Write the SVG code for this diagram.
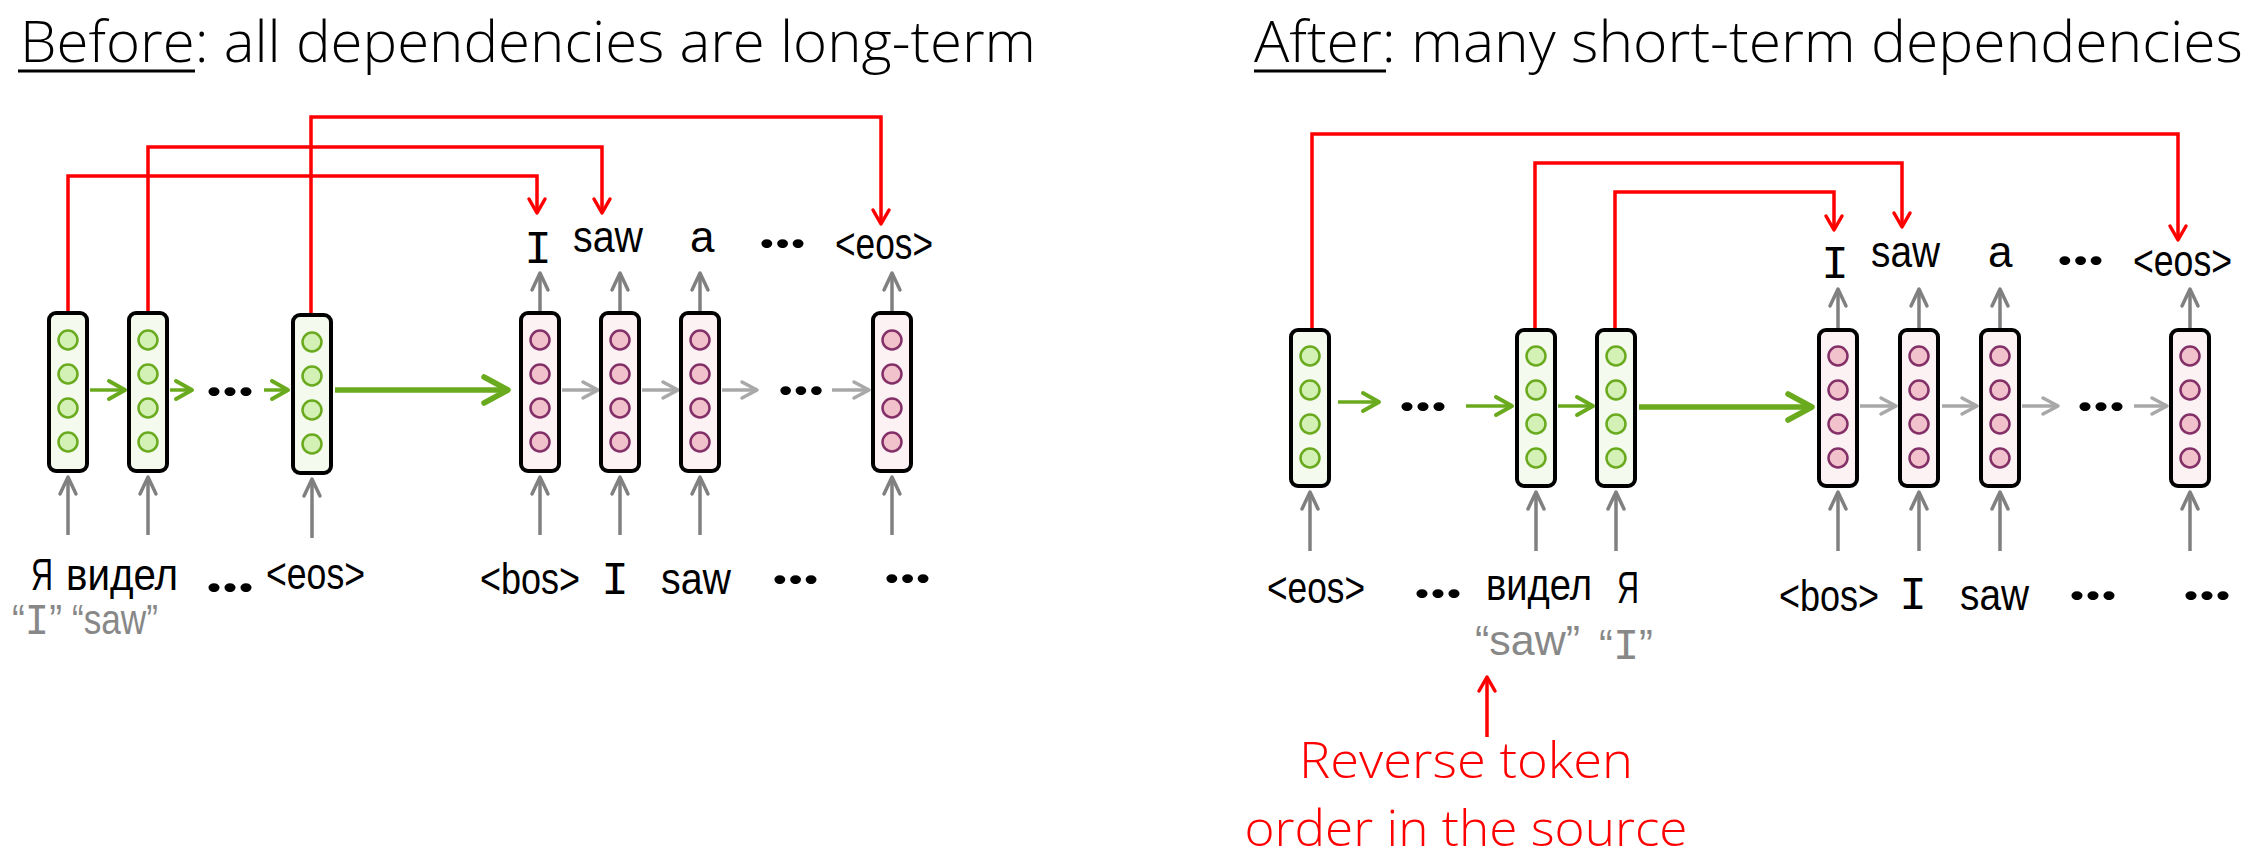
<svg xmlns="http://www.w3.org/2000/svg" width="2256" height="864" viewBox="0 0 2256 864">
<style>
.title{font-family:"Open Sans","Liberation Sans",sans-serif;font-weight:300;font-size:57px;fill:#000}
.note{font-family:"Open Sans","Liberation Sans",sans-serif;font-weight:300;font-size:49px;fill:#ff0000}
.tok{font-family:"Liberation Sans","DejaVu Sans",sans-serif;font-size:44px;fill:#000}
.tokI{font-family:"Liberation Mono","DejaVu Sans Mono",monospace;font-size:46px;fill:#000}
.dots{font-family:Lato,"Liberation Sans",sans-serif;font-weight:900;font-size:56px;fill:#000}
.gq{font-family:"Liberation Sans","DejaVu Sans",sans-serif;font-size:42px;fill:#888888}
.gqI{font-family:"Liberation Mono","DejaVu Sans Mono",monospace;font-size:44px;fill:#888888}
.enc{fill:#f4fbee;stroke:#000;stroke-width:4}
.dec{fill:#fcf1f3;stroke:#000;stroke-width:4}
.ge{fill:#d3f0b5;stroke:#6aaa1e;stroke-width:2.5}
.pe{fill:#f2c2cc;stroke:#843068;stroke-width:2.5}
.red{fill:none;stroke:#ff0000;stroke-width:3.5;stroke-linejoin:miter}
.gv{fill:none;stroke:#808080;stroke-width:3.5}
.gh{fill:none;stroke:#a8a8a8;stroke-width:3.5}
.gr{fill:none;stroke:#6aaa1e;stroke-width:3.5}
.grb{fill:none;stroke:#6aaa1e;stroke-width:5.5}
.ul{stroke:#000;stroke-width:3}
</style>
<defs>
<marker id="mRed" markerUnits="userSpaceOnUse" viewBox="-30 -16 34 32" markerWidth="34" markerHeight="32" refX="0" refY="0" orient="auto"><path d="M-14,-8 L0,0 L-14,8" fill="none" stroke="#ff0000" stroke-width="3.5" stroke-linejoin="round" stroke-linecap="round"/></marker>
<marker id="mGV" markerUnits="userSpaceOnUse" viewBox="-30 -16 34 32" markerWidth="34" markerHeight="32" refX="0" refY="0" orient="auto"><path d="M-17,-8 L0,0 L-17,8" fill="none" stroke="#808080" stroke-width="3.5" stroke-linejoin="round" stroke-linecap="round"/></marker>
<marker id="mGH" markerUnits="userSpaceOnUse" viewBox="-30 -16 34 32" markerWidth="34" markerHeight="32" refX="0" refY="0" orient="auto"><path d="M-15,-8 L0,0 L-15,8" fill="none" stroke="#a8a8a8" stroke-width="3.5" stroke-linejoin="round" stroke-linecap="round"/></marker>
<marker id="mGr" markerUnits="userSpaceOnUse" viewBox="-30 -16 34 32" markerWidth="34" markerHeight="32" refX="0" refY="0" orient="auto"><path d="M-16,-9 L0,0 L-16,9" fill="none" stroke="#6aaa1e" stroke-width="4" stroke-linejoin="round" stroke-linecap="round"/></marker>
<marker id="mGrB" markerUnits="userSpaceOnUse" viewBox="-30 -16 34 32" markerWidth="34" markerHeight="32" refX="0" refY="0" orient="auto"><path d="M-24,-13 L0,0 L-24,13" fill="none" stroke="#6aaa1e" stroke-width="5.5" stroke-linejoin="round" stroke-linecap="round"/></marker>
</defs>
<rect width="2256" height="864" fill="#ffffff"/>

<g id="titles">
<text class="title" x="20" y="62" textLength="1016" lengthAdjust="spacingAndGlyphs">Before: all dependencies are long-term</text>
<line class="ul" x1="18" y1="71" x2="195" y2="71"/>
<text class="title" x="1254" y="62" textLength="989" lengthAdjust="spacingAndGlyphs">After: many short-term dependencies</text>
<line class="ul" x1="1254" y1="71" x2="1386" y2="71"/>
</g>

<g id="connectors">
<!-- red long-range dependencies, left -->
<polyline class="red" points="68,311 68,176 537,176 537,213" marker-end="url(#mRed)"/>
<polyline class="red" points="148,311 148,147 602,147 602,213" marker-end="url(#mRed)"/>
<polyline class="red" points="311,313 311,117 881,117 881,224" marker-end="url(#mRed)"/>
<!-- red, right -->
<polyline class="red" points="1312,328 1312,134 2178,134 2178,240" marker-end="url(#mRed)"/>
<polyline class="red" points="1535,328 1535,163 1902,163 1902,227" marker-end="url(#mRed)"/>
<polyline class="red" points="1615,328 1615,192 1834,192 1834,230" marker-end="url(#mRed)"/>
<line class="red" x1="1487" y1="737" x2="1487" y2="677" marker-end="url(#mRed)"/>

<!-- horizontal, left -->
<line class="gr" x1="90" y1="390" x2="125" y2="390" marker-end="url(#mGr)"/>
<line class="gr" x1="170" y1="390" x2="192" y2="390" marker-end="url(#mGr)"/>
<line class="gr" x1="264" y1="390" x2="288" y2="390" marker-end="url(#mGr)"/>
<line class="grb" x1="335" y1="390" x2="508" y2="390" marker-end="url(#mGrB)"/>
<line class="gh" x1="562" y1="390" x2="598" y2="390" marker-end="url(#mGH)"/>
<line class="gh" x1="642" y1="390" x2="678" y2="390" marker-end="url(#mGH)"/>
<line class="gh" x1="722" y1="390" x2="757" y2="390" marker-end="url(#mGH)"/>
<line class="gh" x1="832" y1="390" x2="869" y2="390" marker-end="url(#mGH)"/>
<!-- horizontal, right -->
<line class="gr" x1="1338" y1="402" x2="1379" y2="402" marker-end="url(#mGr)"/>
<line class="gr" x1="1466" y1="406" x2="1512" y2="406" marker-end="url(#mGr)"/>
<line class="gr" x1="1558" y1="406" x2="1593" y2="406" marker-end="url(#mGr)"/>
<line class="grb" x1="1639" y1="407" x2="1812" y2="407" marker-end="url(#mGrB)"/>
<line class="gh" x1="1860" y1="406" x2="1896" y2="406" marker-end="url(#mGH)"/>
<line class="gh" x1="1942" y1="406" x2="1977" y2="406" marker-end="url(#mGH)"/>
<line class="gh" x1="2022" y1="406" x2="2058" y2="406" marker-end="url(#mGH)"/>
<line class="gh" x1="2134" y1="406" x2="2167" y2="406" marker-end="url(#mGH)"/>

<!-- vertical input arrows, left -->
<line class="gv" x1="68" y1="535" x2="68" y2="477" marker-end="url(#mGV)"/>
<line class="gv" x1="148" y1="535" x2="148" y2="477" marker-end="url(#mGV)"/>
<line class="gv" x1="312" y1="538" x2="312" y2="479" marker-end="url(#mGV)"/>
<line class="gv" x1="540" y1="535" x2="540" y2="477" marker-end="url(#mGV)"/>
<line class="gv" x1="620" y1="535" x2="620" y2="477" marker-end="url(#mGV)"/>
<line class="gv" x1="700" y1="535" x2="700" y2="477" marker-end="url(#mGV)"/>
<line class="gv" x1="892" y1="535" x2="892" y2="477" marker-end="url(#mGV)"/>
<!-- vertical output arrows, left -->
<line class="gv" x1="540" y1="311" x2="540" y2="273" marker-end="url(#mGV)"/>
<line class="gv" x1="620" y1="311" x2="620" y2="273" marker-end="url(#mGV)"/>
<line class="gv" x1="700" y1="311" x2="700" y2="273" marker-end="url(#mGV)"/>
<line class="gv" x1="892" y1="311" x2="892" y2="273" marker-end="url(#mGV)"/>
<!-- vertical input arrows, right -->
<line class="gv" x1="1310" y1="551" x2="1310" y2="492" marker-end="url(#mGV)"/>
<line class="gv" x1="1536" y1="551" x2="1536" y2="492" marker-end="url(#mGV)"/>
<line class="gv" x1="1616" y1="551" x2="1616" y2="492" marker-end="url(#mGV)"/>
<line class="gv" x1="1838" y1="551" x2="1838" y2="492" marker-end="url(#mGV)"/>
<line class="gv" x1="1919" y1="551" x2="1919" y2="492" marker-end="url(#mGV)"/>
<line class="gv" x1="2000" y1="551" x2="2000" y2="492" marker-end="url(#mGV)"/>
<line class="gv" x1="2190" y1="551" x2="2190" y2="492" marker-end="url(#mGV)"/>
<!-- vertical output arrows, right -->
<line class="gv" x1="1838" y1="328" x2="1838" y2="289" marker-end="url(#mGV)"/>
<line class="gv" x1="1919" y1="328" x2="1919" y2="289" marker-end="url(#mGV)"/>
<line class="gv" x1="2000" y1="328" x2="2000" y2="289" marker-end="url(#mGV)"/>
<line class="gv" x1="2190" y1="328" x2="2190" y2="289" marker-end="url(#mGV)"/>
</g>

<!-- left encoder -->
<g id="enc-L1"><rect class="enc" x="49" y="313" width="38" height="158" rx="7"/><circle class="ge" cx="68" cy="340" r="9.5"/><circle class="ge" cx="68" cy="374" r="9.5"/><circle class="ge" cx="68" cy="408" r="9.5"/><circle class="ge" cx="68" cy="442" r="9.5"/></g>
<g id="enc-L2"><rect class="enc" x="129" y="313" width="38" height="158" rx="7"/><circle class="ge" cx="148" cy="340" r="9.5"/><circle class="ge" cx="148" cy="374" r="9.5"/><circle class="ge" cx="148" cy="408" r="9.5"/><circle class="ge" cx="148" cy="442" r="9.5"/></g>
<g id="enc-L3"><rect class="enc" x="293" y="315" width="38" height="158" rx="7"/><circle class="ge" cx="312" cy="342" r="9.5"/><circle class="ge" cx="312" cy="376" r="9.5"/><circle class="ge" cx="312" cy="410" r="9.5"/><circle class="ge" cx="312" cy="444" r="9.5"/></g>
<!-- left decoder -->
<g id="dec-L1"><rect class="dec" x="521" y="313" width="38" height="158" rx="7"/><circle class="pe" cx="540" cy="340" r="9.5"/><circle class="pe" cx="540" cy="374" r="9.5"/><circle class="pe" cx="540" cy="408" r="9.5"/><circle class="pe" cx="540" cy="442" r="9.5"/></g>
<g id="dec-L2"><rect class="dec" x="601" y="313" width="38" height="158" rx="7"/><circle class="pe" cx="620" cy="340" r="9.5"/><circle class="pe" cx="620" cy="374" r="9.5"/><circle class="pe" cx="620" cy="408" r="9.5"/><circle class="pe" cx="620" cy="442" r="9.5"/></g>
<g id="dec-L3"><rect class="dec" x="681" y="313" width="38" height="158" rx="7"/><circle class="pe" cx="700" cy="340" r="9.5"/><circle class="pe" cx="700" cy="374" r="9.5"/><circle class="pe" cx="700" cy="408" r="9.5"/><circle class="pe" cx="700" cy="442" r="9.5"/></g>
<g id="dec-L4"><rect class="dec" x="873" y="313" width="38" height="158" rx="7"/><circle class="pe" cx="892" cy="340" r="9.5"/><circle class="pe" cx="892" cy="374" r="9.5"/><circle class="pe" cx="892" cy="408" r="9.5"/><circle class="pe" cx="892" cy="442" r="9.5"/></g>
<!-- right encoder -->
<g id="enc-R1"><rect class="enc" x="1291" y="330" width="38" height="156" rx="7"/><circle class="ge" cx="1310" cy="356" r="9.5"/><circle class="ge" cx="1310" cy="390" r="9.5"/><circle class="ge" cx="1310" cy="424" r="9.5"/><circle class="ge" cx="1310" cy="458" r="9.5"/></g>
<g id="enc-R2"><rect class="enc" x="1517" y="330" width="38" height="156" rx="7"/><circle class="ge" cx="1536" cy="356" r="9.5"/><circle class="ge" cx="1536" cy="390" r="9.5"/><circle class="ge" cx="1536" cy="424" r="9.5"/><circle class="ge" cx="1536" cy="458" r="9.5"/></g>
<g id="enc-R3"><rect class="enc" x="1597" y="330" width="38" height="156" rx="7"/><circle class="ge" cx="1616" cy="356" r="9.5"/><circle class="ge" cx="1616" cy="390" r="9.5"/><circle class="ge" cx="1616" cy="424" r="9.5"/><circle class="ge" cx="1616" cy="458" r="9.5"/></g>
<!-- right decoder -->
<g id="dec-R1"><rect class="dec" x="1819" y="330" width="38" height="156" rx="7"/><circle class="pe" cx="1838" cy="356" r="9.5"/><circle class="pe" cx="1838" cy="390" r="9.5"/><circle class="pe" cx="1838" cy="424" r="9.5"/><circle class="pe" cx="1838" cy="458" r="9.5"/></g>
<g id="dec-R2"><rect class="dec" x="1900" y="330" width="38" height="156" rx="7"/><circle class="pe" cx="1919" cy="356" r="9.5"/><circle class="pe" cx="1919" cy="390" r="9.5"/><circle class="pe" cx="1919" cy="424" r="9.5"/><circle class="pe" cx="1919" cy="458" r="9.5"/></g>
<g id="dec-R3"><rect class="dec" x="1981" y="330" width="38" height="156" rx="7"/><circle class="pe" cx="2000" cy="356" r="9.5"/><circle class="pe" cx="2000" cy="390" r="9.5"/><circle class="pe" cx="2000" cy="424" r="9.5"/><circle class="pe" cx="2000" cy="458" r="9.5"/></g>
<g id="dec-R4"><rect class="dec" x="2171" y="330" width="38" height="156" rx="7"/><circle class="pe" cx="2190" cy="356" r="9.5"/><circle class="pe" cx="2190" cy="390" r="9.5"/><circle class="pe" cx="2190" cy="424" r="9.5"/><circle class="pe" cx="2190" cy="458" r="9.5"/></g>

<g id="labels-left">
<text class="dots" x="206" y="396" textLength="48" lengthAdjust="spacingAndGlyphs">...</text>
<text class="dots" x="778" y="395" textLength="46" lengthAdjust="spacingAndGlyphs">...</text>
<text class="tokI" x="538" y="263" text-anchor="middle">I</text>
<text class="tok" x="573" y="252" textLength="70" lengthAdjust="spacingAndGlyphs">saw</text>
<text class="tok" x="690" y="252">a</text>
<text class="dots" x="759" y="248" textLength="47" lengthAdjust="spacingAndGlyphs">...</text>
<text class="tok" x="835" y="259" textLength="98" lengthAdjust="spacingAndGlyphs">&lt;eos&gt;</text>
<text class="tok" x="31" y="590" textLength="22" lengthAdjust="spacingAndGlyphs">Я</text>
<text class="tok" x="66" y="590" textLength="112" lengthAdjust="spacingAndGlyphs">видел</text>
<text class="dots" x="206" y="592" textLength="48" lengthAdjust="spacingAndGlyphs">...</text>
<text class="tok" x="266" y="589" textLength="99" lengthAdjust="spacingAndGlyphs">&lt;eos&gt;</text>
<text class="tok" x="480" y="594" textLength="100" lengthAdjust="spacingAndGlyphs">&lt;bos&gt;</text>
<text class="tokI" x="615" y="594" text-anchor="middle">I</text>
<text class="tok" x="661" y="594" textLength="70" lengthAdjust="spacingAndGlyphs">saw</text>
<text class="dots" x="772" y="584" textLength="47" lengthAdjust="spacingAndGlyphs">...</text>
<text class="dots" x="884" y="583" textLength="47" lengthAdjust="spacingAndGlyphs">...</text>
<text class="gq" x="12" y="634" textLength="50" lengthAdjust="spacingAndGlyphs">“<tspan class="gqI">I</tspan>”</text>
<text class="gq" x="72" y="634" textLength="86" lengthAdjust="spacingAndGlyphs">“saw”</text>
</g>

<g id="labels-right">
<text class="dots" x="1399" y="411" textLength="48" lengthAdjust="spacingAndGlyphs">...</text>
<text class="dots" x="2077" y="411" textLength="48" lengthAdjust="spacingAndGlyphs">...</text>
<text class="tokI" x="1835" y="278" text-anchor="middle">I</text>
<text class="tok" x="1871" y="267" textLength="69" lengthAdjust="spacingAndGlyphs">saw</text>
<text class="tok" x="1988" y="267">a</text>
<text class="dots" x="2057" y="265" textLength="47" lengthAdjust="spacingAndGlyphs">...</text>
<text class="tok" x="2133" y="276" textLength="99" lengthAdjust="spacingAndGlyphs">&lt;eos&gt;</text>
<text class="tok" x="1267" y="603" textLength="98" lengthAdjust="spacingAndGlyphs">&lt;eos&gt;</text>
<text class="dots" x="1414" y="598" textLength="48" lengthAdjust="spacingAndGlyphs">...</text>
<text class="tok" x="1486" y="600" textLength="106" lengthAdjust="spacingAndGlyphs">видел</text>
<text class="tok" x="1617" y="603" textLength="22" lengthAdjust="spacingAndGlyphs">Я</text>
<text class="tok" x="1779" y="611" textLength="100" lengthAdjust="spacingAndGlyphs">&lt;bos&gt;</text>
<text class="tokI" x="1913" y="609" text-anchor="middle">I</text>
<text class="tok" x="1960" y="610" textLength="69" lengthAdjust="spacingAndGlyphs">saw</text>
<text class="dots" x="2069" y="600" textLength="48" lengthAdjust="spacingAndGlyphs">...</text>
<text class="dots" x="2183" y="600" textLength="48" lengthAdjust="spacingAndGlyphs">...</text>
<text class="gq" x="1475" y="655" textLength="105" lengthAdjust="spacingAndGlyphs">“saw”</text>
<text class="gq" x="1599" y="659" textLength="54" lengthAdjust="spacingAndGlyphs">“<tspan class="gqI">I</tspan>”</text>
<text class="note" x="1466" y="778" text-anchor="middle" textLength="334" lengthAdjust="spacingAndGlyphs">Reverse token</text>
<text class="note" x="1466" y="846" text-anchor="middle" textLength="443" lengthAdjust="spacingAndGlyphs">order in the source</text>
</g>
</svg>
